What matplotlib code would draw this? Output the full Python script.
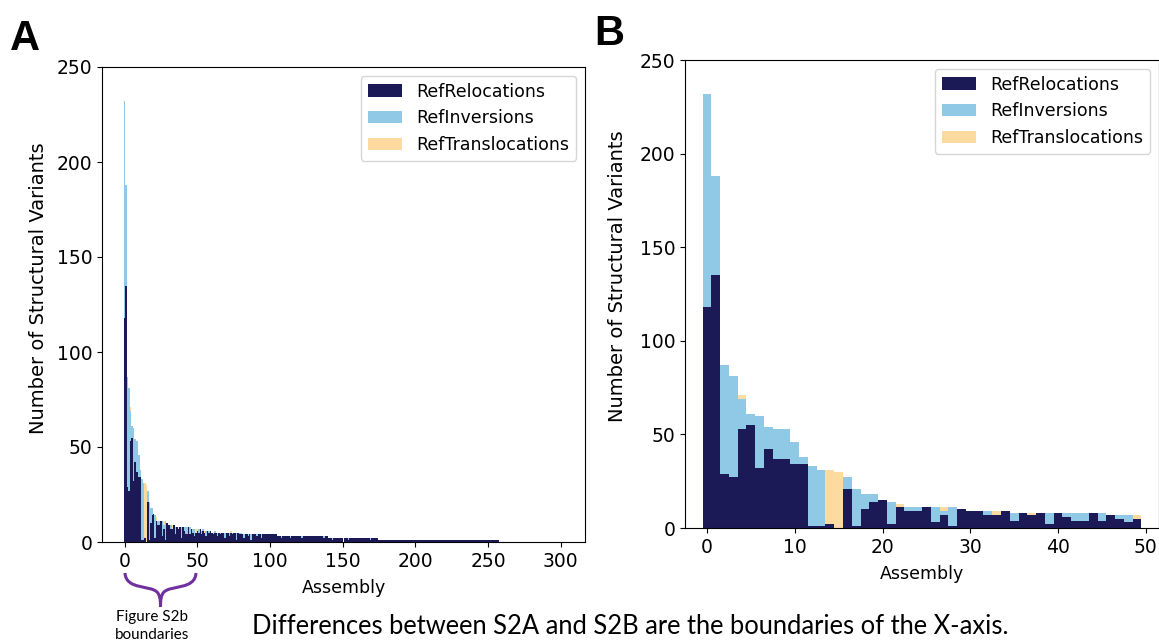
import numpy as np
import matplotlib
matplotlib.use('Agg')
import matplotlib.pyplot as plt
from matplotlib.path import Path
from matplotlib.patches import PathPatch

plt.rcParams['font.family'] = ['DejaVu Sans']

# counts per assembly (0..49)
reloc_b = [118, 135, 29, 27, 53, 55, 32, 42, 37, 37,
           34, 34, 1, 1, 2, 0, 21, 1, 10, 14,
           15, 2, 11, 9, 9, 11, 3, 7, 1, 10,
           9, 9, 7, 7, 9, 4, 8, 7, 8, 2,
           8, 6, 4, 4, 8, 4, 7, 5, 3, 5]
inv_b = [114, 53, 58, 54, 16, 6, 28, 12, 16, 16,
         12, 4, 32, 30, 0, 0, 6, 20, 8, 4,
         0, 12, 0, 2, 2, 0, 8, 2, 10, 0,
         0, 0, 2, 0, 0, 4, 0, 0, 0, 6,
         0, 2, 4, 4, 0, 4, 0, 2, 4, 0]
trans_b = [0, 0, 0, 0, 2, 0, 0, 0, 0, 0,
           0, 0, 0, 0, 29, 30, 0, 0, 0, 0,
           0, 0, 2, 0, 0, 0, 0, 2, 0, 0,
           0, 0, 0, 2, 0, 0, 0, 1, 0, 0,
           0, 0, 0, 0, 0, 0, 0, 0, 0, 2]

# assemblies 50..301 (coarse)
reloc_tail = [6, 5, 7, 4, 6, 5, 3, 6, 5, 6,
              5, 4, 5, 5, 3, 5, 4, 5, 5, 2,
              5, 5, 3, 5, 4, 5, 5, 1, 5, 4,
              4, 4, 2, 4, 4, 3, 4, 1, 4, 4,
              4, 3, 4, 4, 2, 4, 4, 4, 4, 4,
              4, 4, 4, 4, 4, 3, 3, 3, 2, 3,
              3, 3, 3, 3, 2, 3, 3, 3, 3, 3,
              3, 3, 2, 3, 3, 3, 3, 3, 3, 3,
              3, 3, 3, 3, 3, 3, 3, 2, 3, 3,
              2, 2, 2, 1, 2, 2, 2, 2, 2, 2,
              2, 2, 2, 2, 1, 2, 2, 2, 2, 2,
              2, 2, 2, 2, 2, 2, 2, 2, 2, 1,
              2, 2, 2, 2, 2, 1, 1, 1, 1, 1,
              1, 1, 1, 1, 1, 1, 1, 1, 1, 1,
              1, 1, 1, 1, 1, 1, 1, 1, 1, 1,
              1, 1, 1, 1, 1, 1, 1, 1, 1, 1,
              1, 1, 1, 1, 1, 1, 1, 1, 1, 1,
              1, 1, 1, 1, 1, 1, 1, 1, 1, 1,
              1, 1, 1, 1, 1, 1, 1, 1, 1, 1,
              1, 1, 1, 1, 1, 1, 1, 1, 1, 1,
              1, 1, 1, 1, 1, 1, 1, 1, 0, 0,
              0, 0, 0, 0, 0, 0, 0, 0, 0, 0,
              0, 0, 0, 0, 0, 0, 0, 0, 0, 0,
              0, 0, 0, 0, 0, 0, 0, 0, 0, 0,
              0, 0, 0, 0, 0, 0, 0, 0, 0, 0,
              0, 0]
inv_tail = [0, 2, 0, 2, 1, 0, 3, 0, 1, 0,
            0, 1, 1, 0, 2, 0, 1, 0, 0, 3,
            0, 0, 2, 0, 1, 0, 0, 4, 0, 1,
            1, 0, 2, 0, 0, 1, 0, 3, 0, 0,
            0, 1, 0, 0, 2, 0, 0, 0, 0, 0,
            0, 0, 0, 0, 0, 0, 0, 0, 1, 0,
            0, 0, 0, 0, 1, 0, 0, 0, 0, 0,
            0, 0, 1, 0, 0, 0, 0, 0, 0, 0,
            0, 0, 0, 0, 0, 0, 0, 1, 0, 0,
            0, 0, 0, 1, 0, 0, 0, 0, 0, 0,
            0, 0, 0, 0, 1, 0, 0, 0, 0, 0,
            0, 0, 0, 0, 0, 0, 0, 0, 0, 1]
trans_tail = [1, 0, 0, 0, 0, 1, 0, 0, 0, 0,
              0, 0, 0, 0, 0, 0, 0, 0, 0, 0,
              0, 0, 0, 1, 0, 0, 0, 0, 0, 0]

colors = ['#1c1957', '#8fc9e6', '#fddba0']
labels = ['RefRelocations', 'RefInversions', 'RefTranslocations']

n_tail = len(reloc_tail)
reloc_a = np.array(reloc_b + reloc_tail)
inv_a = np.array(inv_b + inv_tail + [0] * (n_tail - len(inv_tail)))
trans_a = np.array(trans_b + trans_tail + [0] * (n_tail - len(trans_tail)))

W, H = 1159, 642
fig = plt.figure(figsize=(W / 100, H / 100), dpi=100)
fs = 12.5


def box(l, t, r, b):
    return [l / W, 1 - b / H, (r - l) / W, (b - t) / H]


def stacked(ax, r, i, t, ylab_xy):
    x = np.arange(len(r))
    r = np.asarray(r)
    i = np.asarray(i)
    t = np.asarray(t)
    ax.bar(x, r, width=1, color=colors[0], linewidth=0, label=labels[0])
    ax.bar(x, i, width=1, bottom=r, color=colors[1], linewidth=0, label=labels[1])
    ax.bar(x, t, width=1, bottom=r + i, color=colors[2], linewidth=0, label=labels[2])
    ax.set_ylim(0, 250)
    ax.set_xlabel('Assembly', fontsize=fs, labelpad=6)
    ax.set_ylabel('Number of Structural Variants', fontsize=14)
    ax.yaxis.set_label_coords(*ylab_xy)
    ax.tick_params(labelsize=13.5)
    ax.legend(loc='upper right', fontsize=fs)


# panel A
axA = fig.add_axes(box(102, 67, 585, 542))
stacked(axA, reloc_a, inv_a, trans_a, (-0.112, 0.535))
axA.set_xticks(range(0, 301, 50))

# panel B
axB = fig.add_axes(box(685, 60, 1159, 528))
stacked(axB, reloc_b, inv_b, trans_b, (-0.122, 0.538))
axB.set_xlim(-2.5, 51.5)
axB.set_xticks(range(0, 51, 10))

fig.text(10 / W, 1 - 50 / H, 'A', fontsize=30, fontweight='bold', family='Liberation Sans')
fig.text(594 / W, 1 - 45 / H, 'B', fontsize=30, fontweight='bold', family='Liberation Sans')

# brace under panel A ticks 0-50
def px(x, y):
    return (x / W, 1 - y / H)

verts = [px(125, 573), px(126, 590), px(150, 585), px(157, 592),
         px(160, 595), px(160.5, 600), px(160.5, 607),
         px(196, 573), px(195, 590), px(171, 585), px(164, 592),
         px(161, 595), px(160.5, 600), px(160.5, 607)]
codes = [Path.MOVETO, Path.CURVE4, Path.CURVE4, Path.CURVE4,
         Path.CURVE4, Path.CURVE4, Path.CURVE4] * 2
brace = PathPatch(Path(verts, codes), transform=fig.transFigure,
                  facecolor='none', edgecolor='#7030a0', linewidth=2.2)
fig.patches.append(brace)

fig.text(152 / W, 1 - 626 / H, 'Figure S2b\nboundaries', ha='center', va='center',
         fontsize=11, family='Lato', linespacing=1.3)
fig.text(630 / W, 1 - 627 / H, 'Differences between S2A and S2B are the boundaries of the X-axis.',
         ha='center', va='center', fontsize=18.4, family='Lato')

fig.savefig('out.png', dpi=100)
